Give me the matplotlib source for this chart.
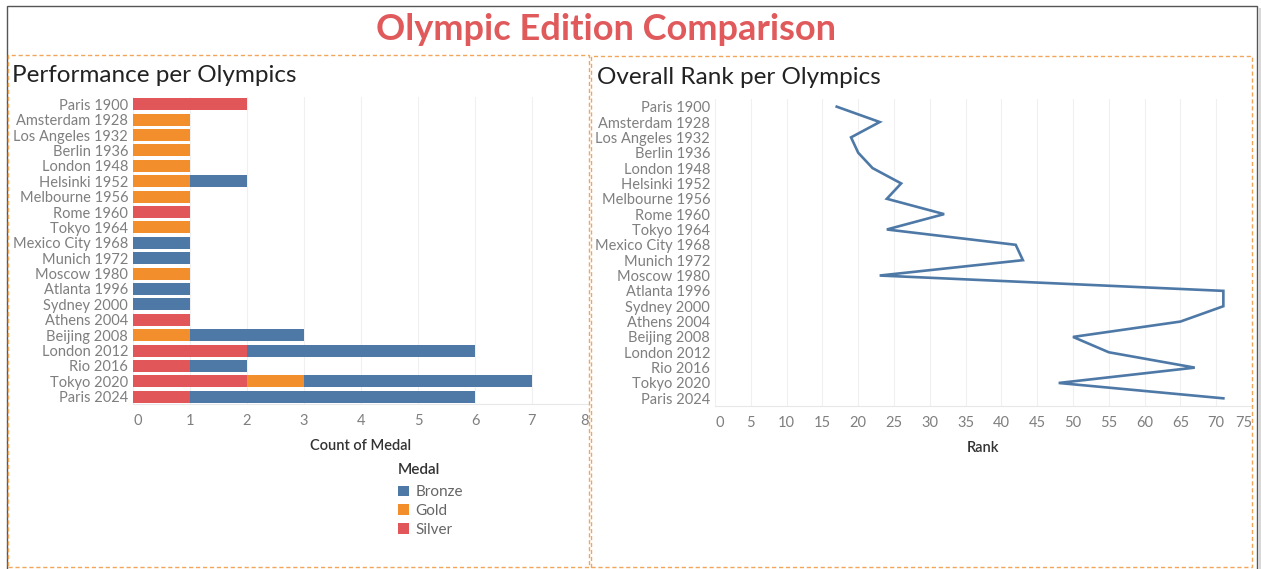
import matplotlib
matplotlib.use('Agg')
import matplotlib.pyplot as plt
from matplotlib.patches import Rectangle
import numpy as np

plt.rcParams.update({
    'font.family': ['Lato', 'DejaVu Sans'],
})

games = ['Paris 1900', 'Amsterdam 1928', 'Los Angeles 1932', 'Berlin 1936',
         'London 1948', 'Helsinki 1952', 'Melbourne 1956', 'Rome 1960',
         'Tokyo 1964', 'Mexico City 1968', 'Munich 1972', 'Moscow 1980',
         'Atlanta 1996', 'Sydney 2000', 'Athens 2004', 'Beijing 2008',
         'London 2012', 'Rio 2016', 'Tokyo 2020', 'Paris 2024']
silver = [2, 0, 0, 0, 0, 0, 0, 1, 0, 0, 0, 0, 0, 0, 1, 0, 2, 1, 2, 1]
gold = [0, 1, 1, 1, 1, 1, 1, 0, 1, 0, 0, 1, 0, 0, 0, 1, 0, 0, 1, 0]
bronze = [0, 0, 0, 0, 0, 1, 0, 0, 0, 1, 1, 0, 1, 1, 0, 2, 4, 1, 4, 5]
rank = [17, 23, 19, 20, 22, 26, 24, 32, 24, 42, 43, 23, 71, 71, 65, 50, 55, 67, 48, 71]

C_BRONZE = '#4e79a7'
C_GOLD = '#f28e2b'
C_SILVER = '#e15759'
C_DASH = '#f2a65a'
TICK_C = '#7f7f7f'
GRID_C = '#f0f0f0'

W, H = 1261, 569
fig = plt.figure(figsize=(W / 100, H / 100), dpi=100)


def fx(px):
    return px / W


def fy(py):
    return 1 - py / H


# outer frame and dashed panels
fig.add_artist(Rectangle((fx(7), fy(580)), fx(1257) - fx(7), fy(6) - fy(580),
                         transform=fig.transFigure, fill=False, ec='#555555', lw=1.0))
fig.add_artist(Rectangle((fx(1258), fy(575)), fx(3), fy(8) - fy(575),
                         transform=fig.transFigure, fc='#d8d8d8', ec='none'))
for x0, x1, y0 in [(8, 589, 55), (591, 1252, 56)]:
    fig.add_artist(Rectangle((fx(x0), fy(567)), fx(x1) - fx(x0), fy(y0) - fy(567),
                             transform=fig.transFigure, fill=False, ec=C_DASH,
                             lw=1.0, ls=(0, (3, 2))))

fig.text(fx(606), fy(40), 'Olympic Edition Comparison', ha='center', va='baseline',
         fontsize=26, fontweight='bold', color='#e05a5c')
fig.text(fx(12), fy(82), 'Performance per Olympics', ha='left', va='baseline',
         fontsize=17.5, color='#222222')
fig.text(fx(597), fy(84), 'Overall Rank per Olympics', ha='left', va='baseline',
         fontsize=17.5, color='#222222')

y = np.arange(len(games))


def style_axis(ax, xmax, step):
    ax.set_ylim(len(games) - 0.5, -0.5)
    ax.set_xlim(0, xmax)
    ax.set_yticks(y)
    ax.set_yticklabels(games)
    ticks = np.arange(0, xmax + step, step)
    ax.set_xticks(ticks)
    ax.set_xticklabels([str(int(t)) for t in ticks])
    ax.tick_params(length=0, labelsize=10.5, labelcolor=TICK_C)
    ax.tick_params(axis='x', pad=7)
    ax.tick_params(axis='y', pad=3.5)
    labs = ax.get_xticklabels()
    labs[0].set_ha('left')
    labs[-1].set_ha('right')
    for s in ['top', 'right', 'left']:
        ax.spines[s].set_visible(False)
    ax.spines['bottom'].set_color('#e8e8e8')
    ax.grid(axis='x', color=GRID_C, lw=0.8)
    ax.set_axisbelow(True)


# left: stacked medal bars
ax1 = fig.add_axes([fx(133), fy(404.4), fx(589) - fx(133), fy(96.6) - fy(404.4)])
bh = 0.78
s = np.array(silver)
g = np.array(gold)
b = np.array(bronze)
h_b = ax1.barh(y, b, left=s + g, height=bh, color=C_BRONZE, label='Bronze')
h_g = ax1.barh(y, g, left=s, height=bh, color=C_GOLD, label='Gold')
h_s = ax1.barh(y, s, height=bh, color=C_SILVER, label='Silver')
style_axis(ax1, 8, 1)
ax1.set_xlabel('Count of Medal', fontsize=10.5, color='#333333', fontweight='semibold', labelpad=8)

leg = ax1.legend(handles=[h_b, h_g, h_s], labels=['Bronze', 'Gold', 'Silver'],
                 title='Medal', loc='upper left', bbox_to_anchor=(fx(398), fy(463)),
                 bbox_transform=fig.transFigure, frameon=False, fontsize=11,
                 handlelength=0.7, handleheight=0.7, handletextpad=0.45,
                 labelspacing=0.3, borderpad=0, borderaxespad=0,
                 alignment='left')
leg.get_title().set_fontsize(11)
leg.get_title().set_fontweight('semibold')
leg.get_title().set_color('#333333')
leg._legend_box.sep = 6
for t in leg.get_texts():
    t.set_color('#666666')

# right: rank line
ax2 = fig.add_axes([fx(715), fy(406), fx(1252) - fx(715), fy(99) - fy(406)])
ax2.plot(rank, y, color=C_BRONZE, lw=1.9, solid_joinstyle='miter')
style_axis(ax2, 75, 5)
ax2.set_xlabel('Rank', fontsize=10.5, color='#333333', fontweight='semibold', labelpad=8)

fig.savefig('out.png', dpi=100)
